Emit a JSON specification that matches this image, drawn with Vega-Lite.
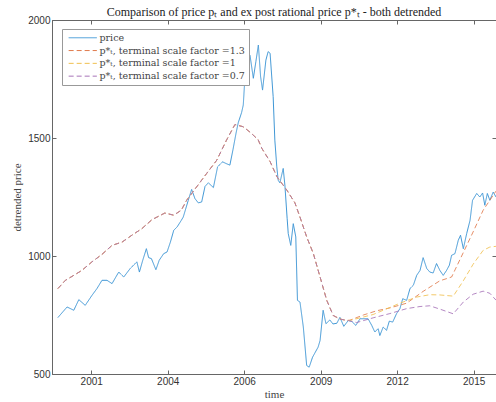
{
  "$schema": "https://vega.github.io/schema/vega-lite/v6.json",
  "width": 444,
  "height": 354,
  "autosize": {"type": "none"},
  "padding": {"left": 52, "top": 20, "right": 0, "bottom": 28},
  "background": "white",
  "title": {
    "text": "Comparison of price pₜ and ex post rational price p*ₜ - both detrended",
    "font": "Liberation Serif",
    "fontSize": 12,
    "fontWeight": "normal",
    "color": "#222",
    "anchor": "middle",
    "offset": -4
  },
  "config": {
    "view": {"stroke": "#666", "strokeWidth": 1},
    "axis": {
      "domainColor": "#666",
      "tickColor": "#666",
      "tickSize": -4,
      "labelFont": "Liberation Sans",
      "labelFontSize": 10,
      "labelColor": "#333",
      "titleFont": "Liberation Serif",
      "titleFontWeight": "normal",
      "titleFontSize": 11,
      "titleColor": "#444",
      "grid": false
    }
  },
  "datasets": {
    "price": [
      {"t":2000.21,"v":739,"s":"price"},{"t":2000.54,"v":784,"s":"price"},{"t":2000.78,"v":770,"s":"price"},{"t":2000.96,"v":815,"s":"price"},
      {"t":2001.19,"v":791,"s":"price"},{"t":2001.43,"v":833,"s":"price"},{"t":2001.61,"v":862,"s":"price"},{"t":2001.79,"v":897,"s":"price"},
      {"t":2001.97,"v":897,"s":"price"},{"t":2002.15,"v":883,"s":"price"},{"t":2002.39,"v":932,"s":"price"},{"t":2002.57,"v":911,"s":"price"},
      {"t":2002.80,"v":947,"s":"price"},{"t":2003.04,"v":975,"s":"price"},{"t":2003.13,"v":932,"s":"price"},{"t":2003.25,"v":982,"s":"price"},
      {"t":2003.38,"v":1031,"s":"price"},{"t":2003.46,"v":993,"s":"price"},{"t":2003.56,"v":989,"s":"price"},{"t":2003.72,"v":942,"s":"price"},
      {"t":2003.84,"v":982,"s":"price"},{"t":2004.00,"v":1010,"s":"price"},{"t":2004.12,"v":1017,"s":"price"},{"t":2004.24,"v":1059,"s":"price"},
      {"t":2004.36,"v":1109,"s":"price"},{"t":2004.48,"v":1123,"s":"price"},{"t":2004.63,"v":1151,"s":"price"},{"t":2004.70,"v":1165,"s":"price"},
      {"t":2004.88,"v":1236,"s":"price"},{"t":2005.00,"v":1282,"s":"price"},{"t":2005.12,"v":1243,"s":"price"},{"t":2005.24,"v":1225,"s":"price"},
      {"t":2005.36,"v":1229,"s":"price"},{"t":2005.48,"v":1295,"s":"price"},{"t":2005.60,"v":1310,"s":"price"},{"t":2005.78,"v":1290,"s":"price"},
      {"t":2005.93,"v":1378,"s":"price"},{"t":2006.11,"v":1399,"s":"price"},{"t":2006.23,"v":1392,"s":"price"},{"t":2006.37,"v":1385,"s":"price"},
      {"t":2006.48,"v":1450,"s":"price"},{"t":2006.59,"v":1520,"s":"price"},{"t":2006.67,"v":1565,"s":"price"},{"t":2006.79,"v":1608,"s":"price"},
      {"t":2006.85,"v":1640,"s":"price"},{"t":2006.91,"v":1759,"s":"price"},{"t":2007.03,"v":1844,"s":"price"},{"t":2007.09,"v":1851,"s":"price"},
      {"t":2007.21,"v":1753,"s":"price"},{"t":2007.30,"v":1823,"s":"price"},{"t":2007.39,"v":1894,"s":"price"},{"t":2007.47,"v":1760,"s":"price"},
      {"t":2007.54,"v":1703,"s":"price"},{"t":2007.66,"v":1830,"s":"price"},{"t":2007.74,"v":1866,"s":"price"},{"t":2007.81,"v":1859,"s":"price"},
      {"t":2007.92,"v":1675,"s":"price"},{"t":2007.98,"v":1491,"s":"price"},{"t":2008.05,"v":1378,"s":"price"},{"t":2008.10,"v":1321,"s":"price"},
      {"t":2008.16,"v":1310,"s":"price"},{"t":2008.28,"v":1371,"s":"price"},{"t":2008.34,"v":1300,"s":"price"},{"t":2008.42,"v":1160,"s":"price"},
      {"t":2008.46,"v":1095,"s":"price"},{"t":2008.55,"v":1045,"s":"price"},{"t":2008.64,"v":1137,"s":"price"},{"t":2008.73,"v":1081,"s":"price"},
      {"t":2008.79,"v":812,"s":"price"},{"t":2008.88,"v":805,"s":"price"},{"t":2009.00,"v":699,"s":"price"},{"t":2009.12,"v":536,"s":"price"},
      {"t":2009.21,"v":529,"s":"price"},{"t":2009.33,"v":571,"s":"price"},{"t":2009.53,"v":614,"s":"price"},{"t":2009.60,"v":642,"s":"price"},
      {"t":2009.71,"v":770,"s":"price"},{"t":2009.81,"v":713,"s":"price"},{"t":2009.95,"v":729,"s":"price"},{"t":2010.06,"v":712,"s":"price"},
      {"t":2010.20,"v":715,"s":"price"},{"t":2010.31,"v":740,"s":"price"},{"t":2010.45,"v":702,"s":"price"},{"t":2010.61,"v":727,"s":"price"},
      {"t":2010.74,"v":722,"s":"price"},{"t":2010.88,"v":706,"s":"price"},{"t":2011.03,"v":734,"s":"price"},{"t":2011.32,"v":734,"s":"price"},
      {"t":2011.45,"v":706,"s":"price"},{"t":2011.56,"v":678,"s":"price"},{"t":2011.68,"v":692,"s":"price"},{"t":2011.74,"v":663,"s":"price"},
      {"t":2011.86,"v":699,"s":"price"},{"t":2011.98,"v":685,"s":"price"},{"t":2012.08,"v":724,"s":"price"},{"t":2012.20,"v":720,"s":"price"},
      {"t":2012.34,"v":756,"s":"price"},{"t":2012.46,"v":777,"s":"price"},{"t":2012.56,"v":819,"s":"price"},{"t":2012.70,"v":812,"s":"price"},
      {"t":2012.82,"v":862,"s":"price"},{"t":2012.94,"v":876,"s":"price"},{"t":2013.06,"v":918,"s":"price"},{"t":2013.18,"v":939,"s":"price"},
      {"t":2013.29,"v":993,"s":"price"},{"t":2013.42,"v":947,"s":"price"},{"t":2013.53,"v":932,"s":"price"},{"t":2013.65,"v":928,"s":"price"},
      {"t":2013.77,"v":968,"s":"price"},{"t":2013.89,"v":939,"s":"price"},{"t":2014.01,"v":918,"s":"price"},{"t":2014.13,"v":939,"s":"price"},
      {"t":2014.23,"v":961,"s":"price"},{"t":2014.31,"v":1003,"s":"price"},{"t":2014.43,"v":1010,"s":"price"},{"t":2014.55,"v":1067,"s":"price"},
      {"t":2014.63,"v":1088,"s":"price"},{"t":2014.73,"v":1031,"s":"price"},{"t":2014.85,"v":1095,"s":"price"},{"t":2014.97,"v":1151,"s":"price"},
      {"t":2015.06,"v":1236,"s":"price"},{"t":2015.21,"v":1265,"s":"price"},{"t":2015.32,"v":1250,"s":"price"},{"t":2015.42,"v":1267,"s":"price"},
      {"t":2015.50,"v":1215,"s":"price"},{"t":2015.59,"v":1265,"s":"price"},{"t":2015.68,"v":1236,"s":"price"},{"t":2015.80,"v":1271,"s":"price"},
      {"t":2015.90,"v":1250,"s":"price"}
    ],
    "pstar": [
      {"t":2000.21,"v":862,"s":"1.3"},{"t":2000.48,"v":897,"s":"1.3"},{"t":2000.78,"v":918,"s":"1.3"},{"t":2001.07,"v":939,"s":"1.3"},
      {"t":2001.43,"v":975,"s":"1.3"},{"t":2001.79,"v":1007,"s":"1.3"},{"t":2002.15,"v":1045,"s":"1.3"},{"t":2002.51,"v":1059,"s":"1.3"},
      {"t":2002.86,"v":1088,"s":"1.3"},{"t":2003.22,"v":1116,"s":"1.3"},{"t":2003.58,"v":1154,"s":"1.3"},{"t":2004.04,"v":1182,"s":"1.3"},
      {"t":2004.36,"v":1173,"s":"1.3"},{"t":2004.63,"v":1194,"s":"1.3"},{"t":2004.82,"v":1236,"s":"1.3"},{"t":2005.18,"v":1293,"s":"1.3"},
      {"t":2005.54,"v":1350,"s":"1.3"},{"t":2005.90,"v":1406,"s":"1.3"},{"t":2006.25,"v":1491,"s":"1.3"},{"t":2006.55,"v":1557,"s":"1.3"},
      {"t":2006.84,"v":1548,"s":"1.3"},{"t":2007.09,"v":1525,"s":"1.3"},{"t":2007.38,"v":1493,"s":"1.3"},{"t":2007.52,"v":1455,"s":"1.3"},
      {"t":2007.81,"v":1400,"s":"1.3"},{"t":2008.06,"v":1335,"s":"1.3"},{"t":2008.41,"v":1279,"s":"1.3"},{"t":2008.70,"v":1225,"s":"1.3"},
      {"t":2008.88,"v":1165,"s":"1.3"},{"t":2009.12,"v":1081,"s":"1.3"},{"t":2009.36,"v":1010,"s":"1.3"},{"t":2009.60,"v":911,"s":"1.3"},
      {"t":2009.84,"v":812,"s":"1.3"},{"t":2010.07,"v":748,"s":"1.3"},{"t":2010.31,"v":733,"s":"1.3"},{"t":2010.55,"v":727,"s":"1.3"},
      {"t":2010.67,"v":728,"s":"1.3"},{"t":2011.15,"v":750,"s":"1.3"},{"t":2011.63,"v":768,"s":"1.3"},{"t":2012.10,"v":780,"s":"1.3"},
      {"t":2012.70,"v":800,"s":"1.3"},{"t":2013.29,"v":850,"s":"1.3"},{"t":2013.89,"v":895,"s":"1.3"},{"t":2014.31,"v":911,"s":"1.3"},
      {"t":2014.61,"v":985,"s":"1.3"},{"t":2015.08,"v":1102,"s":"1.3"},{"t":2015.44,"v":1194,"s":"1.3"},{"t":2015.90,"v":1275,"s":"1.3"},

      {"t":2000.21,"v":862,"s":"1"},{"t":2000.48,"v":897,"s":"1"},{"t":2000.78,"v":918,"s":"1"},{"t":2001.07,"v":939,"s":"1"},
      {"t":2001.43,"v":975,"s":"1"},{"t":2001.79,"v":1007,"s":"1"},{"t":2002.15,"v":1045,"s":"1"},{"t":2002.51,"v":1059,"s":"1"},
      {"t":2002.86,"v":1088,"s":"1"},{"t":2003.22,"v":1116,"s":"1"},{"t":2003.58,"v":1154,"s":"1"},{"t":2004.04,"v":1182,"s":"1"},
      {"t":2004.36,"v":1173,"s":"1"},{"t":2004.63,"v":1194,"s":"1"},{"t":2004.82,"v":1236,"s":"1"},{"t":2005.18,"v":1293,"s":"1"},
      {"t":2005.54,"v":1350,"s":"1"},{"t":2005.90,"v":1406,"s":"1"},{"t":2006.25,"v":1491,"s":"1"},{"t":2006.55,"v":1557,"s":"1"},
      {"t":2006.84,"v":1548,"s":"1"},{"t":2007.09,"v":1525,"s":"1"},{"t":2007.38,"v":1493,"s":"1"},{"t":2007.52,"v":1455,"s":"1"},
      {"t":2007.81,"v":1400,"s":"1"},{"t":2008.06,"v":1335,"s":"1"},{"t":2008.41,"v":1279,"s":"1"},{"t":2008.70,"v":1225,"s":"1"},
      {"t":2008.88,"v":1165,"s":"1"},{"t":2009.12,"v":1081,"s":"1"},{"t":2009.36,"v":1010,"s":"1"},{"t":2009.60,"v":911,"s":"1"},
      {"t":2009.84,"v":812,"s":"1"},{"t":2010.07,"v":748,"s":"1"},{"t":2010.31,"v":733,"s":"1"},{"t":2010.55,"v":727,"s":"1"},
      {"t":2010.67,"v":727,"s":"1"},{"t":2011.50,"v":752,"s":"1"},{"t":2012.46,"v":800,"s":"1"},{"t":2013.06,"v":826,"s":"1"},
      {"t":2013.53,"v":836,"s":"1"},{"t":2013.89,"v":835,"s":"1"},{"t":2014.37,"v":830,"s":"1"},{"t":2014.73,"v":895,"s":"1"},
      {"t":2015.08,"v":965,"s":"1"},{"t":2015.44,"v":1024,"s":"1"},{"t":2015.68,"v":1038,"s":"1"},{"t":2015.90,"v":1041,"s":"1"},

      {"t":2000.21,"v":862,"s":"0.7"},{"t":2000.48,"v":897,"s":"0.7"},{"t":2000.78,"v":918,"s":"0.7"},{"t":2001.07,"v":939,"s":"0.7"},
      {"t":2001.43,"v":975,"s":"0.7"},{"t":2001.79,"v":1007,"s":"0.7"},{"t":2002.15,"v":1045,"s":"0.7"},{"t":2002.51,"v":1059,"s":"0.7"},
      {"t":2002.86,"v":1088,"s":"0.7"},{"t":2003.22,"v":1116,"s":"0.7"},{"t":2003.58,"v":1154,"s":"0.7"},{"t":2004.04,"v":1182,"s":"0.7"},
      {"t":2004.36,"v":1173,"s":"0.7"},{"t":2004.63,"v":1194,"s":"0.7"},{"t":2004.82,"v":1236,"s":"0.7"},{"t":2005.18,"v":1293,"s":"0.7"},
      {"t":2005.54,"v":1350,"s":"0.7"},{"t":2005.90,"v":1406,"s":"0.7"},{"t":2006.25,"v":1491,"s":"0.7"},{"t":2006.55,"v":1557,"s":"0.7"},
      {"t":2006.84,"v":1548,"s":"0.7"},{"t":2007.09,"v":1525,"s":"0.7"},{"t":2007.38,"v":1493,"s":"0.7"},{"t":2007.52,"v":1455,"s":"0.7"},
      {"t":2007.81,"v":1400,"s":"0.7"},{"t":2008.06,"v":1335,"s":"0.7"},{"t":2008.41,"v":1279,"s":"0.7"},{"t":2008.70,"v":1225,"s":"0.7"},
      {"t":2008.88,"v":1165,"s":"0.7"},{"t":2009.12,"v":1081,"s":"0.7"},{"t":2009.36,"v":1010,"s":"0.7"},{"t":2009.60,"v":911,"s":"0.7"},
      {"t":2009.84,"v":812,"s":"0.7"},{"t":2010.07,"v":748,"s":"0.7"},{"t":2010.31,"v":733,"s":"0.7"},{"t":2010.55,"v":727,"s":"0.7"},
      {"t":2010.67,"v":725,"s":"0.7"},{"t":2010.91,"v":718,"s":"0.7"},{"t":2011.50,"v":738,"s":"0.7"},{"t":2012.10,"v":756,"s":"0.7"},
      {"t":2012.70,"v":777,"s":"0.7"},{"t":2013.18,"v":786,"s":"0.7"},{"t":2013.53,"v":789,"s":"0.7"},{"t":2013.89,"v":775,"s":"0.7"},
      {"t":2014.37,"v":755,"s":"0.7"},{"t":2014.73,"v":805,"s":"0.7"},{"t":2015.08,"v":838,"s":"0.7"},{"t":2015.44,"v":851,"s":"0.7"},
      {"t":2015.68,"v":842,"s":"0.7"},{"t":2015.90,"v":813,"s":"0.7"}
    ]
  },
  "layer": [
    {
      "data": {"name": "price"},
      "mark": {"type": "line", "strokeWidth": 1, "clip": true},
      "encoding": {
        "x": {
          "field": "t", "type": "quantitative",
          "scale": {"domain": [2000, 2015.9], "nice": false, "zero": false},
          "axis": {
            "orient": "bottom",
            "values": [2001.405, 2004.145, 2006.882, 2009.622, 2012.358, 2015.099],
            "labelExpr": "floor(datum.value)",
            "title": "time",
            "labelPadding": 6,
            "titlePadding": 2
          }
        },
        "y": {
          "field": "v", "type": "quantitative",
          "scale": {"domain": [500, 2000], "nice": false, "zero": false},
          "axis": {
            "orient": "left",
            "values": [500, 1000, 1500, 2000],
            "format": "d",
            "title": "detrended price",
            "labelPadding": 6,
            "titlePadding": 5
          }
        },
        "color": {
          "field": "s", "type": "nominal",
          "scale": {"domain": ["price", "1.3", "1", "0.7"], "range": ["#3f97d6", "#e07a4c", "#f0c050", "#a773b8"]},
          "legend": {
            "orient": "none",
            "legendX": 10,
            "legendY": 9,
            "title": null,
            "labelExpr": "datum.label == 'price' ? 'price' : 'p*ₜ, terminal scale factor =' + datum.label",
            "labelFont": "DejaVu Serif",
            "labelFontSize": 9.5,
            "labelColor": "#444",
            "labelLimit": 300,
            "strokeColor": "#999",
            "fillColor": "white",
            "padding": 4,
            "symbolType": "M-4.7,0H4.7",
            "symbolSize": 36,
            "symbolStrokeWidth": 1,
            "symbolOffset": 12,
            "rowPadding": 1.8,
            "labelOffset": 12,
            "encode": {
              "symbols": {
                "update": {
                  "strokeDash": {"signal": "datum.value == 'price' ? [1, 0] : [5, 3]"}
                }
              }
            }
          }
        },
        "strokeDash": {
          "field": "s", "type": "nominal",
          "scale": {"domain": ["price", "1.3", "1", "0.7"], "range": [[1, 0], [5, 3], [5, 3], [5, 3]]},
          "legend": null
        }
      }
    },
    {
      "data": {"name": "pstar"},
      "mark": {"type": "line", "strokeWidth": 1, "opacity": 0.85, "clip": true},
      "encoding": {
        "x": {
          "field": "t", "type": "quantitative",
          "axis": {
            "orient": "top",
            "values": [2001.405, 2004.145, 2006.882, 2009.622, 2012.358, 2015.099],
            "labels": false,
            "title": null
          }
        },
        "y": {
          "field": "v", "type": "quantitative",
          "axis": {
            "orient": "right",
            "values": [500, 1000, 1500, 2000],
            "labels": false,
            "title": null
          }
        },
        "color": {"field": "s", "type": "nominal", "legend": null},
        "strokeDash": {"field": "s", "type": "nominal", "legend": null}
      }
    }
  ],
  "resolve": {"axis": {"x": "independent", "y": "independent"}}
}
